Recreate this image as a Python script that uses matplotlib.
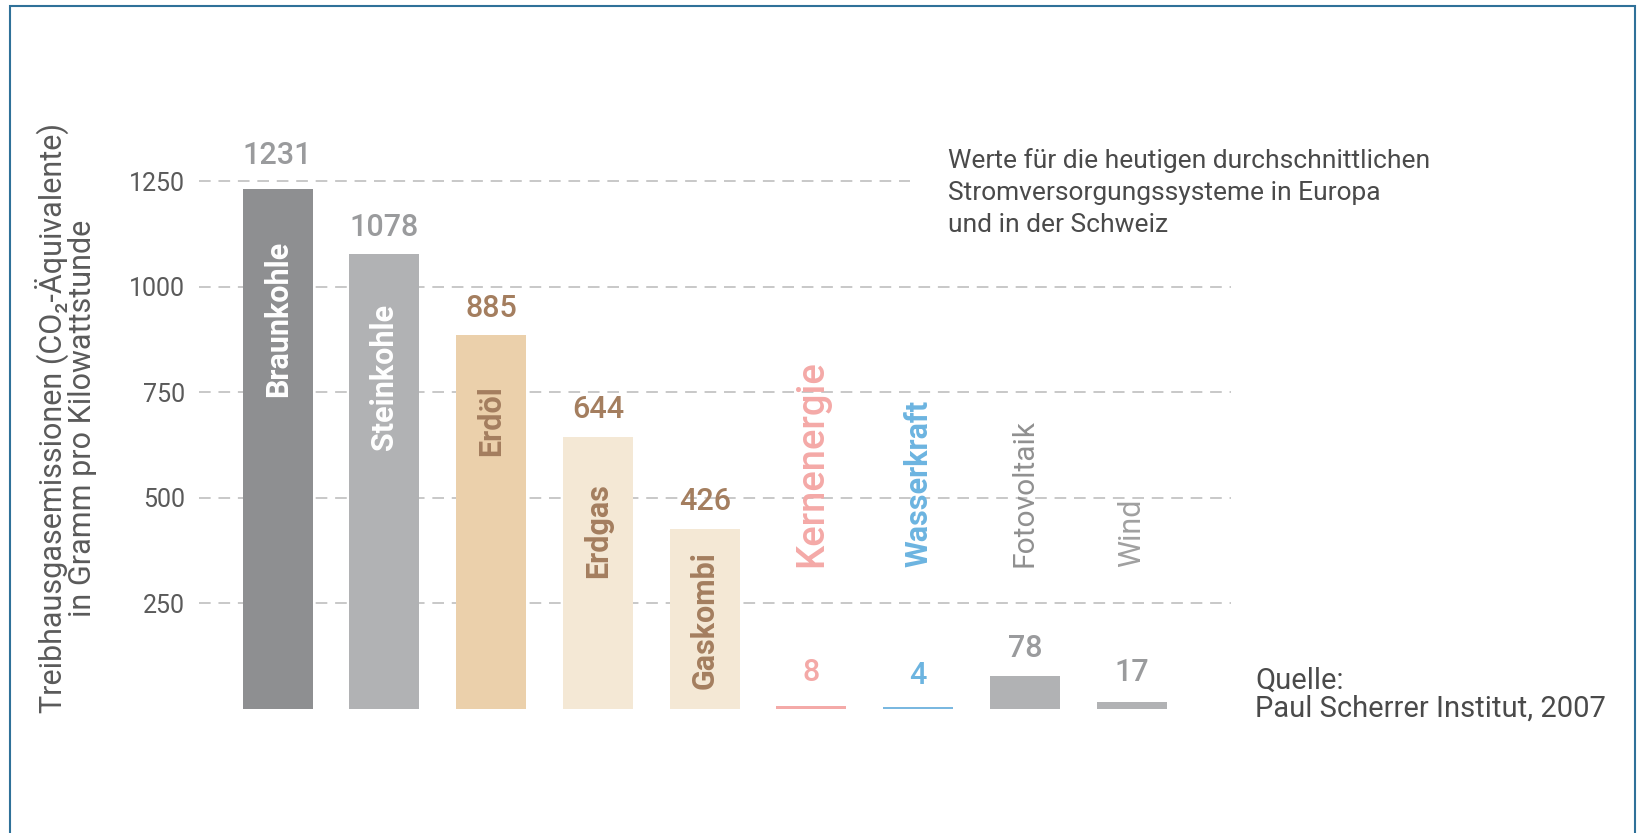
import matplotlib
matplotlib.use("Agg")
import matplotlib.pyplot as plt
from matplotlib.patches import Rectangle

plt.rcParams['font.family'] = ['Roboto', 'DejaVu Sans']

# Daten
kategorien = ['Braunkohle', 'Steinkohle', 'Erdöl', 'Erdgas', 'Gaskombi',
              'Kernenergie', 'Wasserkraft', 'Fotovoltaik', 'Wind']
werte = [1231, 1078, 885, 644, 426, 8, 4, 78, 17]
yticks = [250, 500, 750, 1000, 1250]

# Stil
bar_farben = ['#8e8f91', '#b1b2b4', '#ebd0ab', '#f4e8d5', '#f4e8d5',
              '#f4aaa8', '#7ab8e0', '#b1b2b4', '#b1b2b4']
wert_farben = ['#9a9b9d', '#9a9b9d', '#a47e5f', '#a47e5f', '#a47e5f',
               '#f4a9a7', '#6cb4e0', '#9a9b9d', '#9a9b9d']
wert_offset = [24, 19, 19, 20, 20, 24, 23, 20, 21]
innen = [0, 1, 2, 3, 4]
innen_farben = ['white', 'white', '#a47e5f', '#a47e5f', '#a47e5f']
innen_offset = [-37, -36, -36, -33, -16]
aussen_farben = {5: '#f4a9a7', 6: '#6cb4e0', 7: '#909090', 8: '#a0a0a0'}
aussen_size = {5: 27.5, 6: 22, 7: 21.5, 8: 22}
aussen_weight = {5: 'medium', 6: 'bold', 7: 'normal', 8: 'normal'}
aussen_basis = 335

fig = plt.figure(figsize=(16.4, 8.33), dpi=100)
ax = fig.add_axes([199 / 1640, 0.1489, 1032 / 1640, 1350 * 0.000507])

x = list(range(len(kategorien)))
ax.bar(x, werte, width=0.656, color=bar_farben, zorder=2)

# Gitterlinien
for t in yticks:
    xmax = 0.689 if t == 1250 else 1.0
    ax.axhline(t, xmin=0, xmax=xmax, color='#c8c8c8', lw=1.4,
               dashes=(6, 4), zorder=1)

ax.set_xlim(-0.737, 8.93)
ax.set_ylim(0, 1350)
ax.set_yticks(yticks)
ax.set_yticklabels([str(t) for t in yticks], fontsize=18, color='#5a5a5a')
ax.tick_params(axis='y', length=0, pad=10)
ax.set_xticks([])
for s in ax.spines.values():
    s.set_visible(False)

# Werte ueber den Balken
for i, v in enumerate(werte):
    ax.annotate(str(v), (i, v), xytext=(0, wert_offset[i]),
                textcoords='offset points', ha='center', va='center',
                fontsize=22, color=wert_farben[i], fontweight='medium')

# Beschriftung in den Balken
for k, i in enumerate(innen):
    ax.annotate(kategorien[i], (i, werte[i]), xytext=(0, innen_offset[k]),
                textcoords='offset points', ha='center', va='top',
                rotation=90, fontsize=22, fontweight='bold',
                color=innen_farben[k])

# Beschriftung ueber kleinen Balken
for i, c in aussen_farben.items():
    ax.text(i, aussen_basis, kategorien[i], rotation=90, ha='center',
            va='bottom', fontsize=aussen_size[i], color=c,
            fontweight=aussen_weight[i])

fig.text(0.040, 0.498,
         'Treibhausgasemissionen (CO₂-Äquivalente)\nin Gramm pro Kilowattstunde',
         rotation=90, ha='center', va='center', multialignment='center',
         fontsize=22, color='#5a5a5a', linespacing=0.95)

fig.text(948 / 1640, 1 - 192.5 / 833,
         'Werte für die heutigen durchschnittlichen\n'
         'Stromversorgungssysteme in Europa\nund in der Schweiz',
         ha='left', va='center', fontsize=19, color='#4a4a4a',
         linespacing=1.4)

fig.text(1255 / 1640, 1 - 695 / 833,
         'Quelle:\nPaul Scherrer Institut, 2007',
         ha='left', va='center', fontsize=21, color='#4a4a4a',
         linespacing=1.0)

# Rahmen
fig.patches.append(Rectangle((0.006, -0.02), 0.991, 1.013,
                             transform=fig.transFigure, fill=False,
                             edgecolor='#2f7199', lw=1.5))

fig.savefig('out.png', dpi=100)
